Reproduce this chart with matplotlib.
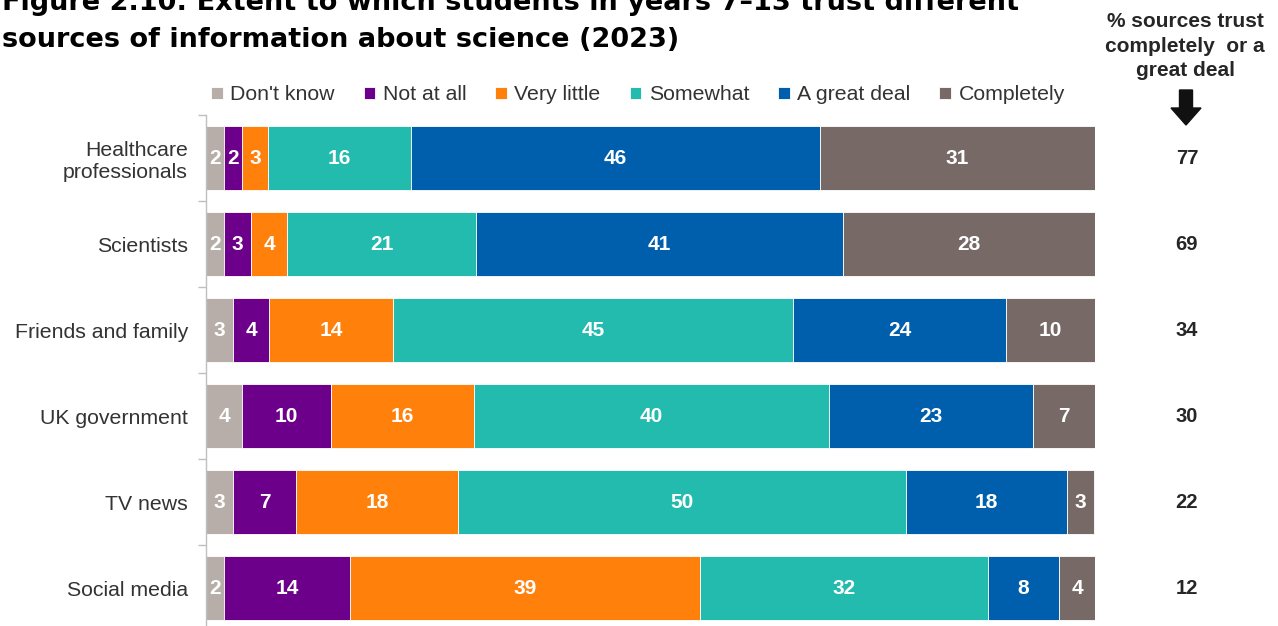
import matplotlib
matplotlib.use("Agg")
import matplotlib.pyplot as plt
import numpy as np

categories = ["Healthcare\nprofessionals", "Scientists", "Friends and family",
              "UK government", "TV news", "Social media"]
series_names = ["Don't know", "Not at all", "Very little", "Somewhat", "A great deal", "Completely"]
colors = ["#B8AEA9", "#6D008A", "#FF800B", "#22BBAE", "#005FAD", "#766966"]

# segment widths per category
dont_know   = [2.02, 2.02, 3.04, 4.05, 3.04, 2.02]
not_at_all  = [2.02, 3.04, 4.05, 10.01, 7.09, 14.17]
very_little = [2.92, 4.05, 13.95, 16.09, 18.22, 39.37]
somewhat    = [16.09, 21.26, 45.0, 39.93, 50.4, 32.4]
great_deal  = [46.0, 41.28, 23.96, 22.95, 18.11, 7.99]
completely  = [30.93, 28.35, 10.01, 6.97, 3.04, 4.05]

# displayed labels
labels_dk = [2, 2, 3, 4, 3, 2]
labels_na = [2, 3, 4, 10, 7, 14]
labels_vl = [3, 4, 14, 16, 18, 39]
labels_sw = [16, 21, 45, 40, 50, 32]
labels_gd = [46, 41, 24, 23, 18, 8]
labels_cp = [31, 28, 10, 7, 3, 4]

trust_total = [77, 69, 34, 30, 22, 12]

series = [dont_know, not_at_all, very_little, somewhat, great_deal, completely]
labels = [labels_dk, labels_na, labels_vl, labels_sw, labels_gd, labels_cp]

W, H = 1278, 626
fig = plt.figure(figsize=(W / 100, H / 100), dpi=100)
ax = fig.add_axes([206 / W, 1 - 631 / H, (1095 - 206) / W, (631 - 115) / H])

y = np.arange(len(categories))
left = np.zeros(len(categories))
for vals, labs, col, name in zip(series, labels, colors, series_names):
    vals = np.array(vals)
    ax.barh(y, vals, left=left, height=0.745, color=col, edgecolor="white",
            linewidth=0.6, label=name)
    for yi, (l, v, lab) in enumerate(zip(left, vals, labs)):
        ax.text(l + v / 2, yi, str(lab), ha="center", va="center", color="white",
                fontsize=15, fontweight="bold", family="Liberation Sans")
    left += vals

ax.set_xlim(0, 100)
ax.set_ylim(len(categories) - 0.5, -0.5)
ax.set_yticks(y)
ax.set_yticklabels(categories, fontsize=15.3, color="#333333", family="Liberation Sans",
                   linespacing=1.2)
ax.tick_params(axis="y", which="major", length=0, pad=13)
ax.set_yticks(np.arange(-0.5, len(categories), 1.0), minor=True)
ax.tick_params(axis="y", which="minor", length=6, color="#BFBFBF", width=1)
ax.set_xticks([])
for s in ["top", "right", "bottom"]:
    ax.spines[s].set_visible(False)
ax.spines["left"].set_color("#BFBFBF")
ax.spines["left"].set_linewidth(1)

# right-hand totals
for yi, t in enumerate(trust_total):
    ax.annotate(str(t), xy=(1, yi), xycoords=("axes fraction", "data"),
                xytext=(1187 - 1095, 0), textcoords="offset pixels",
                ha="center", va="center", fontsize=14.5, fontweight="bold",
                color="#262626", family="Liberation Sans")

fig.text(1185 / W, 1 - 46 / H, "% sources trust\ncompletely  or a\ngreat deal",
         ha="center", va="center", fontsize=15, fontweight="bold", color="#262626",
         family="Liberation Sans", linespacing=1.35)
fig.patches.append(matplotlib.patches.FancyArrow(
    1186 / W, 1 - 90 / H, 0, -35 / H, width=13 / W, head_width=30 / W,
    head_length=17 / H, length_includes_head=True, color="#111111",
    transform=fig.transFigure, figure=fig))

# legend
handles, labs = ax.get_legend_handles_labels()
leg = fig.legend(handles, labs, loc="center left", bbox_to_anchor=(192 / W, 1 - 95 / H),
                 ncol=6, frameon=False, handlelength=0.55, handleheight=0.55,
                 handletextpad=0.35, columnspacing=1.36,
                 prop={"family": "Liberation Sans", "size": 15.3})
for t in leg.get_texts():
    t.set_color("#333333")

# title (partially cut off at top)
fig.text(2 / W, 1 - 3 / H,
         "Figure 2.10: Extent to which students in years 7\u201313 trust different",
         ha="left", va="center", fontsize=19.5, fontweight="bold", color="black",
         family="DejaVu Sans")
fig.text(2 / W, 1 - 40 / H, "sources of information about science (2023)",
         ha="left", va="center", fontsize=19.5, fontweight="bold", color="black",
         family="DejaVu Sans")

fig.savefig("out.png", dpi=100)
